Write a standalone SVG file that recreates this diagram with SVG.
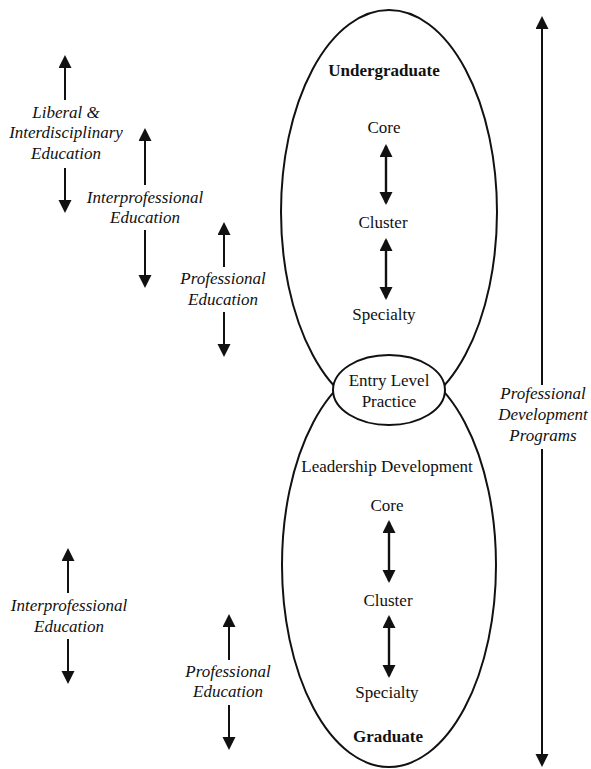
<svg xmlns="http://www.w3.org/2000/svg" width="591" height="769" viewBox="0 0 591 769">
<style>
.t{font-family:"Liberation Serif","Times New Roman",serif;font-size:17px;fill:#111;text-anchor:middle}
.i{font-style:italic}
.b{font-weight:bold}
.e{fill:none;stroke:#111;stroke-width:2}
.c{stroke:#111;stroke-width:2;fill:none}
.thick{stroke-width:2.4}
</style>
<defs>
<marker id="ah" markerUnits="userSpaceOnUse" markerWidth="14" markerHeight="14" refX="11" refY="6.5" orient="auto-start-reverse" viewBox="0 0 14 14">
<path d="M0,0 L13,6.5 L0,13 z" fill="#111"/>
</marker>
</defs>
<rect width="591" height="769" fill="#fff"/>
<g id="undergraduate">
<ellipse class="e" cx="389" cy="212" rx="108" ry="202"/>
</g>
<g id="graduate">
<ellipse class="e" cx="389" cy="565" rx="107" ry="202"/>
</g>
<g id="entry-level">
<ellipse cx="389" cy="390" rx="56" ry="35" fill="#fff" stroke="#111" stroke-width="2"/>
<text class="t" x="389" y="386">Entry Level</text>
<text class="t" x="389" y="407">Practice</text>
</g>
<g id="ug-labels">
<text class="t b" x="384" y="76">Undergraduate</text>
<text class="t" x="384" y="133">Core</text>
<text class="t" x="383" y="228">Cluster</text>
<text class="t" x="384" y="320">Specialty</text>
</g>
<g id="gr-labels">
<text class="t" x="387" y="472">Leadership Development</text>
<text class="t" x="387" y="511">Core</text>
<text class="t" x="388" y="606">Cluster</text>
<text class="t" x="387" y="698">Specialty</text>
<text class="t b" x="388" y="742">Graduate</text>
</g>
<g id="liberal">
<text class="t i" x="66" y="118">Liberal &amp;</text>
<text class="t i" x="66" y="138">Interdisciplinary</text>
<text class="t i" x="66" y="159">Education</text>
</g>
<g id="interprof-ug">
<text class="t i" x="145" y="203">Interprofessional</text>
<text class="t i" x="145" y="223">Education</text>
</g>
<g id="prof-ug">
<text class="t i" x="223" y="284">Professional</text>
<text class="t i" x="223" y="305">Education</text>
</g>
<g id="interprof-gr">
<text class="t i" x="69" y="611">Interprofessional</text>
<text class="t i" x="69" y="632">Education</text>
</g>
<g id="prof-gr">
<text class="t i" x="228" y="677">Professional</text>
<text class="t i" x="228" y="697">Education</text>
</g>
<g id="pdp">
<text class="t i" x="543" y="399">Professional</text>
<text class="t i" x="543" y="420">Development</text>
<text class="t i" x="543" y="441">Programs</text>
</g>
<g id="connectors">
<line class="c" x1="65" y1="100" x2="65" y2="57" marker-end="url(#ah)"/>
<line class="c" x1="65" y1="168" x2="65" y2="211" marker-end="url(#ah)"/>
<line class="c" x1="145" y1="185" x2="145" y2="130" marker-end="url(#ah)"/>
<line class="c" x1="145" y1="230" x2="145" y2="286" marker-end="url(#ah)"/>
<line class="c" x1="224" y1="267" x2="224" y2="224" marker-end="url(#ah)"/>
<line class="c" x1="224" y1="312" x2="224" y2="355" marker-end="url(#ah)"/>
<line class="c" x1="68" y1="593" x2="68" y2="550" marker-end="url(#ah)"/>
<line class="c" x1="68" y1="639" x2="68" y2="682" marker-end="url(#ah)"/>
<line class="c" x1="229" y1="660" x2="229" y2="616" marker-end="url(#ah)"/>
<line class="c" x1="229" y1="705" x2="229" y2="748" marker-end="url(#ah)"/>
<line class="c" x1="542" y1="385" x2="542" y2="18" marker-end="url(#ah)" stroke-width="1.8"/>
<line class="c" x1="542" y1="449" x2="542" y2="765" marker-end="url(#ah)" stroke-width="1.8"/>
<line class="c thick" x1="386" y1="146" x2="386" y2="203" marker-start="url(#ah)" marker-end="url(#ah)"/>
<line class="c thick" x1="386" y1="240" x2="386" y2="298" marker-start="url(#ah)" marker-end="url(#ah)"/>
<line class="c thick" x1="389" y1="522" x2="389" y2="581" marker-start="url(#ah)" marker-end="url(#ah)"/>
<line class="c thick" x1="389" y1="617" x2="389" y2="676" marker-start="url(#ah)" marker-end="url(#ah)"/>
</g>
</svg>
